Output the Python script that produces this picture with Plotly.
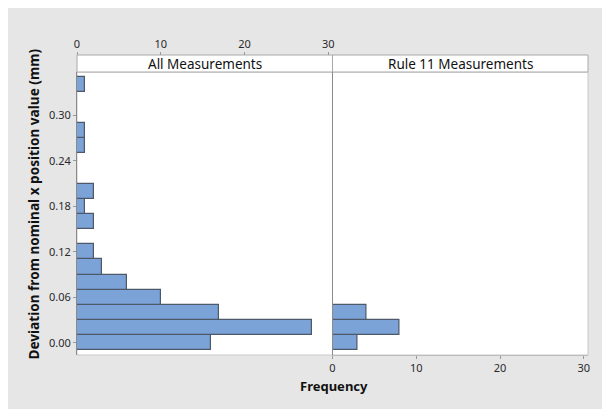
import plotly.graph_objects as go

# Data
bin_centers = [0.00, 0.02, 0.04, 0.06, 0.08, 0.10, 0.12, 0.14, 0.16, 0.18, 0.20, 0.22, 0.24, 0.26, 0.28, 0.30, 0.32, 0.34]
all_counts = [16, 28, 17, 10, 6, 3, 2, 0, 2, 1, 2, 0, 0, 1, 1, 0, 0, 1]
rule11_centers = [0.00, 0.02, 0.04]
rule11_counts = [3, 8, 4]
y_tickvals = [0.00, 0.06, 0.12, 0.18, 0.24, 0.30]
y_ticktext = ["0.00", "0.06", "0.12", "0.18", "0.24", "0.30"]
x_tickvals = [0, 10, 20, 30]
panel_titles = ["All Measurements", "Rule 11 Measurements"]

OFF = 8  # page body margin
W, H = 610 - OFF, 409 - OFF
L, R, T, B = 77 - OFF, 22, 55 - OFF, 54
PW, PH = W - L - R, H - T - B
STRIP_BOTTOM = 72 - OFF
YTOP = (H - B - STRIP_BOTTOM) / PH

def px(x):  # page x -> paper
    return (x - OFF - L) / PW

def py(y):  # page y -> paper
    return (H - B - (y - OFF)) / PH

FONT = "Segoe UI, Noto Sans, Open Sans, sans-serif"
BAR_COLOR = "#7BA3D8"
BAR_LINE = "#4d5868"

fig = go.Figure()
fig.add_trace(go.Bar(y=bin_centers, x=all_counts, orientation="h", width=0.02,
                     marker=dict(color=BAR_COLOR, line=dict(color=BAR_LINE, width=1.2)),
                     xaxis="x", yaxis="y", showlegend=False, hoverinfo="x+y"))
fig.add_trace(go.Bar(y=rule11_centers, x=rule11_counts, orientation="h", width=0.02,
                     marker=dict(color=BAR_COLOR, line=dict(color=BAR_LINE, width=1.2)),
                     xaxis="x2", yaxis="y2", showlegend=False, hoverinfo="x+y"))

tickfont = dict(family=FONT, size=11, color="#2a2a2a")

fig.update_layout(
    template="none",
    width=W, height=H,
    margin=dict(l=L, r=R, t=T, b=B, pad=0, autoexpand=False),
    paper_bgcolor="#e6e6e6",
    plot_bgcolor="white",
    bargap=0,
    font=dict(family=FONT, color="#222222"),
    xaxis=dict(domain=[0, 0.5], range=[0, 30.5], anchor="free", position=1, side="top",
               tickvals=x_tickvals, ticks="outside", ticklen=3, tickcolor="#999999",
               showline=False, showgrid=False, zeroline=False, tickfont=tickfont,
               automargin=False),
    xaxis2=dict(domain=[0.5, 1], range=[0, 30.5], anchor="y2", side="bottom",
                tickvals=x_tickvals, ticks="outside", ticklen=3, tickcolor="#999999",
                showline=True, linecolor="#bbbbbb", linewidth=1,
                showgrid=False, zeroline=False, tickfont=tickfont, automargin=False),
    yaxis=dict(domain=[0, YTOP], range=[-0.016, 0.357], anchor="x",
               tickvals=y_tickvals, ticktext=y_ticktext, ticks="outside", ticklen=3,
               tickcolor="#999999", showline=True, linecolor="#8a8a8a", linewidth=1,
               showgrid=False, zeroline=False, tickfont=tickfont, automargin=False),
    yaxis2=dict(domain=[0, YTOP], matches="y", anchor="x2", showticklabels=False,
                ticks="", showline=True, linecolor="#8a8a8a", linewidth=1,
                showgrid=False, zeroline=False, automargin=False),
)

shapes = [
    # panel borders
    dict(type="rect", xref="paper", yref="paper", x0=0, x1=0.5, y0=0, y1=YTOP,
         fillcolor="white", line=dict(color="#c8c8c8", width=1), layer="below"),
    dict(type="rect", xref="paper", yref="paper", x0=0.5, x1=1, y0=0, y1=YTOP,
         fillcolor="white", line=dict(color="#c8c8c8", width=1), layer="below"),
    # strips
    dict(type="rect", xref="paper", yref="paper", x0=0, x1=0.5, y0=YTOP, y1=1,
         fillcolor="white", line=dict(color="#a8a8a8", width=1), layer="below"),
    dict(type="rect", xref="paper", yref="paper", x0=0.5, x1=1, y0=YTOP, y1=1,
         fillcolor="white", line=dict(color="#a8a8a8", width=1), layer="below"),
]
fig.update_layout(shapes=shapes)

annotations = []
for i, t in enumerate(panel_titles):
    annotations.append(dict(text=t, xref="paper", yref="paper", x=0.25 + 0.5 * i,
                            y=(1 + YTOP) / 2, showarrow=False, xanchor="center", yanchor="middle",
                            font=dict(family=FONT, size=13.5, color="#111111")))
annotations.append(dict(text="<b>Frequency</b>", xref="paper", yref="paper", x=px(333.5), y=py(386),
                        showarrow=False, xanchor="center", yanchor="middle",
                        font=dict(family=FONT, size=13, color="#111111")))
annotations.append(dict(text="<b>Deviation from nominal x position value (mm)</b>", xref="paper",
                        yref="paper", x=px(33), y=py(204.5), textangle=-90, showarrow=False,
                        xanchor="center", yanchor="middle",
                        font=dict(family=FONT, size=13.6, color="#111111")))
fig.update_layout(annotations=annotations)

fig.write_html("out.html")
